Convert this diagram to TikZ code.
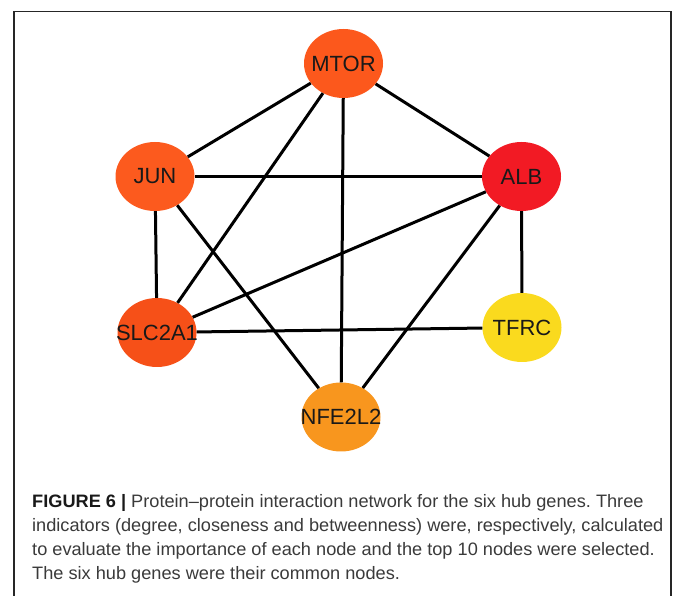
\documentclass[tikz,border=0pt]{standalone}
\usepackage{fontspec}
\setmainfont{Liberation Sans}
\newfontfamily\capfont[FakeStretch=1.01]{Liberation Sans}
\usetikzlibrary{shapes.geometric}
\frenchspacing
\definecolor{mtorcol}{RGB}{252,88,28}
\definecolor{juncol}{RGB}{252,90,30}
\definecolor{albcol}{RGB}{242,26,36}
\definecolor{slccol}{RGB}{246,80,24}
\definecolor{tfrccol}{RGB}{250,218,30}
\definecolor{nfecol}{RGB}{248,150,30}
\definecolor{captext}{RGB}{58,58,58}
\begin{document}
\begin{tikzpicture}[x=1pt,y=-1pt,
  gene/.style={ellipse, minimum width=79pt, minimum height=69pt, inner sep=0pt,
    font=\fontsize{22}{22}\selectfont, text=black!90,
    execute at begin node={\hbox to 0pt\bgroup\hss},
    execute at end node={\hss\egroup}},
  link/.style={line width=3pt, black}]
\useasboundingbox (0,0) rectangle (673,596);
\draw[line width=1.5pt, black!85] (14,596) -- (14,11.5) -- (671,11.5) -- (671,596);
\node[gene, fill=mtorcol] (mtor) at (343.5,63.5){MTOR};
\node[gene, fill=juncol] (jun) at (155,176.5){JUN};
\node[gene, fill=albcol] (alb) at (521.5,176.5){ALB};
\node[gene, fill=slccol] (slc) at (157,332.5){SLC2A1};
\node[gene, fill=tfrccol] (tfrc) at (522,327.5){TFRC};
\node[gene, fill=nfecol] (nfe) at (341,417){NFE2L2};
\draw[link](mtor) -- (jun);
\draw[link](mtor) -- (slc);
\draw[link](mtor) -- (nfe);
\draw[link](mtor) -- (alb);
\draw[link](jun) -- (alb);
\draw[link](jun) -- (slc);
\draw[link](jun) -- (nfe);
\draw[link](alb) -- (slc);
\draw[link](alb) -- (tfrc);
\draw[link](alb) -- (nfe);
\draw[link](slc) -- (tfrc);
% caption
\node[anchor=north west, inner sep=0pt, align=left, text=captext,
  font=\capfont\fontsize{18}{24}\selectfont] (cap) at (32,494.5)
  {{\bfseries\color{black!90}FIGURE 6 |} Protein–protein interaction network for the six hub genes. Three\\
   indicators (degree, closeness and betweenness) were, respectively, calculated\\
   to evaluate the importance of each node and the top 10 nodes were selected.\\
   The six hub genes were their common nodes.};
\end{tikzpicture}
\end{document}
